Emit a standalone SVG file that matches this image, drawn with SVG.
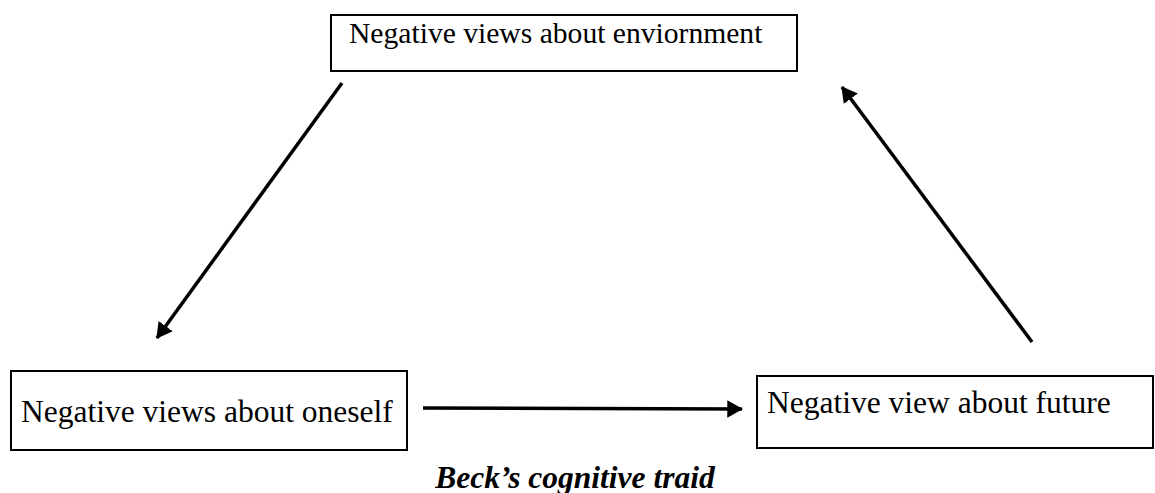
<svg xmlns="http://www.w3.org/2000/svg" width="1155" height="493" viewBox="0 0 1155 493">
<style>
.box{fill:#fff;stroke:#000;stroke-width:2}
.lbl{font-family:"Liberation Serif","Times New Roman",serif;font-size:31.5px;fill:#000}
.top{font-size:29.6px}
.conn{stroke:#000;stroke-width:3.5;fill:none}
.cap{font-family:"Liberation Serif","Times New Roman",serif;font-size:31.5px;font-weight:bold;font-style:italic;fill:#000}
</style>
<defs>
<marker id="ah" markerWidth="5" markerHeight="5" refX="4.2" refY="2.5" orient="auto" markerUnits="strokeWidth">
<path d="M0,0 L4.5,2.5 L0,5 z" fill="#000"/>
</marker>
</defs>
<rect width="1155" height="493" fill="#fff"/>
<g id="node-environment">
<rect class="box" x="331" y="15" width="466" height="56"/>
<text class="lbl top" x="349" y="43">Negative views about enviornment</text>
</g>
<g id="node-oneself">
<rect class="box" x="11" y="371" width="396" height="79"/>
<text class="lbl" x="21" y="422">Negative views about oneself</text>
</g>
<g id="node-future">
<rect class="box" x="757" y="376" width="396" height="72"/>
<text class="lbl" x="767" y="413">Negative view about future</text>
</g>
<g id="connectors">
<line class="conn" x1="342" y1="83" x2="157" y2="338" marker-end="url(#ah)"/>
<line class="conn" x1="423" y1="408" x2="742" y2="409" marker-end="url(#ah)"/>
<line class="conn" x1="1032" y1="342" x2="842" y2="87" marker-end="url(#ah)"/>
</g>
<text class="cap" x="575" y="488" text-anchor="middle">Beck’s cognitive traid</text>
</svg>
